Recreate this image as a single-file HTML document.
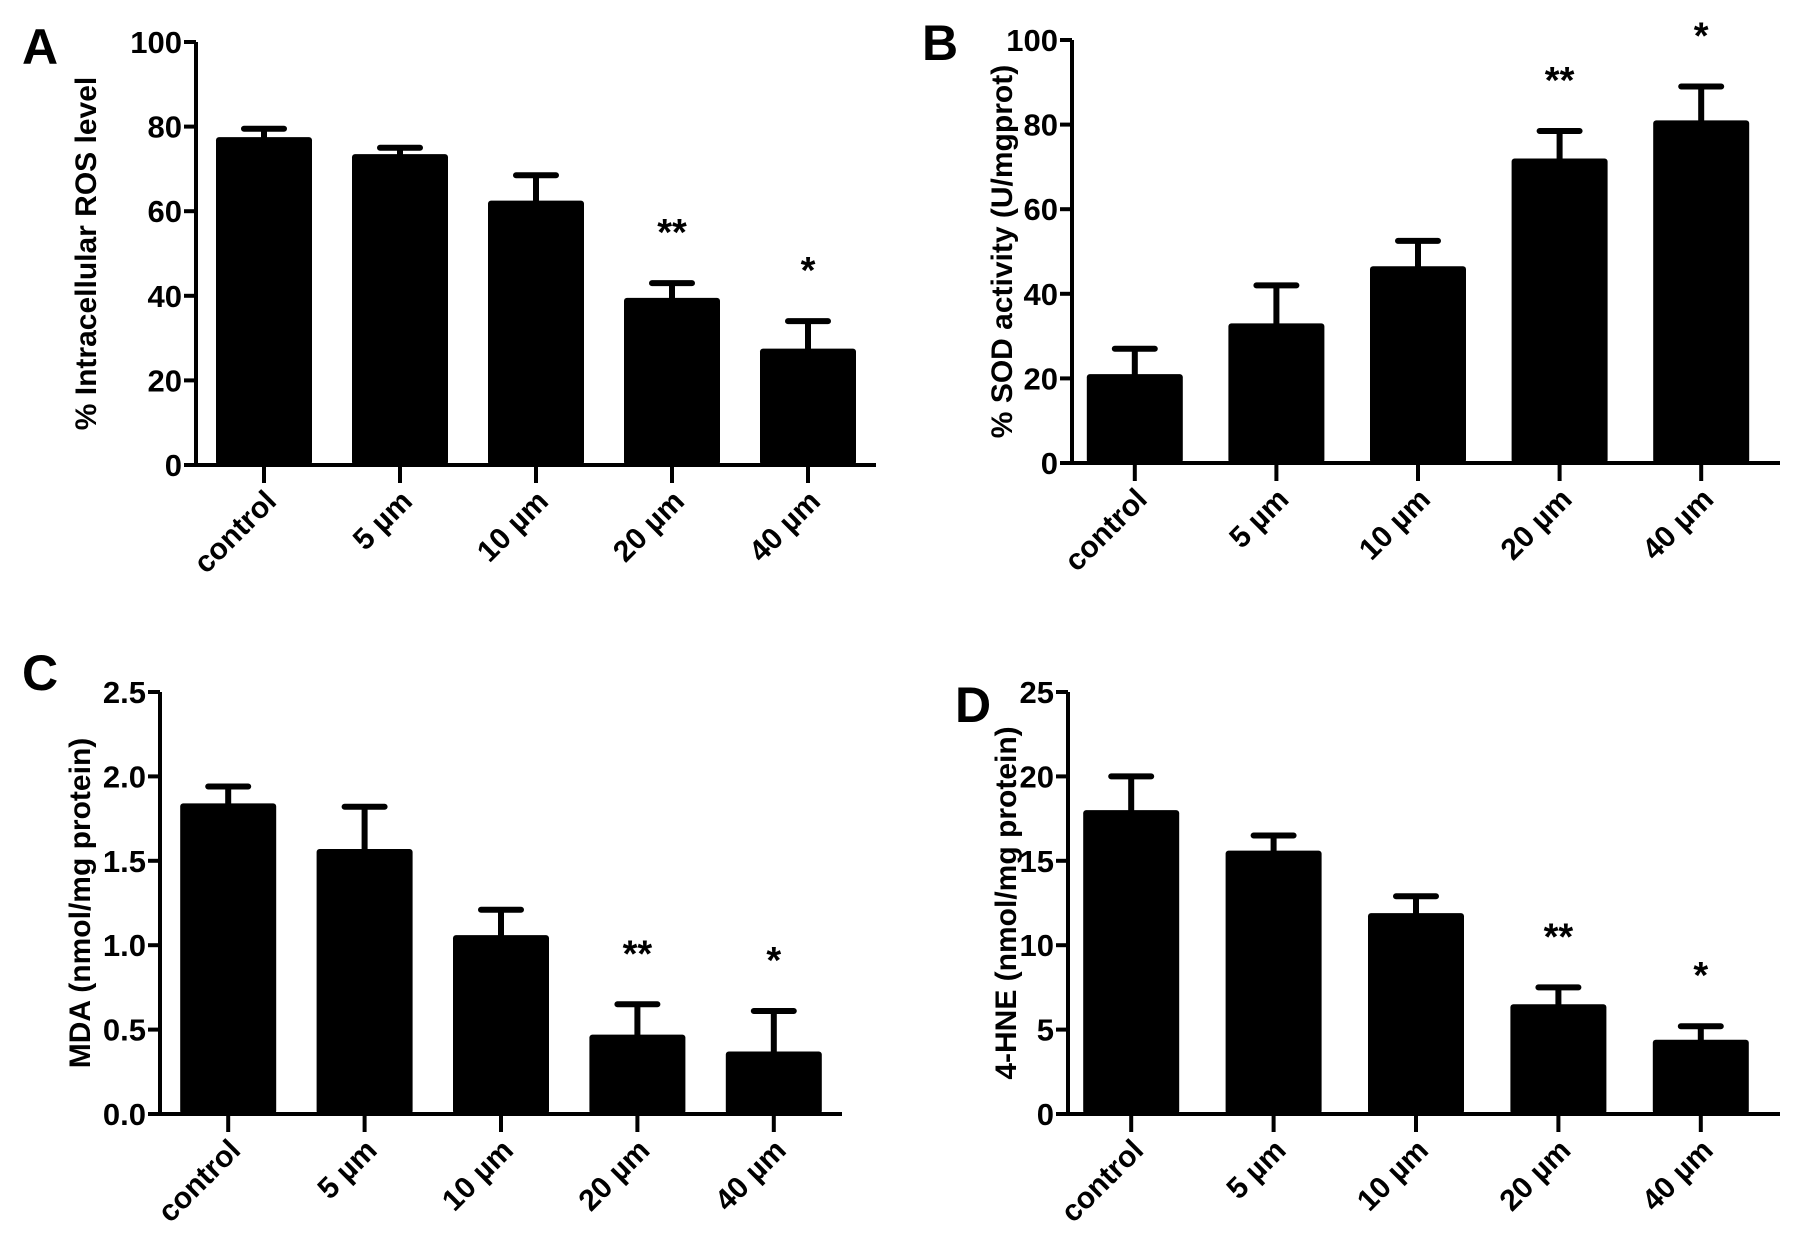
<!DOCTYPE html>
<html><head><meta charset="utf-8"><style>
html,body{margin:0;padding:0;background:#fff;}
svg{display:block;}
text{font-family:"Liberation Sans",Arial,sans-serif;font-weight:bold;fill:#000;}
</style></head><body>
<svg id="fig" width="1795" height="1236" viewBox="0 0 1795 1236"></svg>
<script>
const categories = ["control","5 µm","10 µm","20 µm","40 µm"];
const rosValues = [77.5, 73.5, 62.5, 39.5, 27.5];
const rosErrors = [2, 1.5, 6, 3.5, 6.5];
const rosStars = ["", "", "", "**", "*"];
const rosTicks = ["0","20","40","60","80","100"];
const sodValues = [21, 33, 46.5, 72, 81];
const sodErrors = [6, 9, 6, 6.5, 8];
const sodStars = ["", "", "", "**", "*"];
const sodTicks = ["0","20","40","60","80","100"];
const mdaValues = [1.84, 1.57, 1.06, 0.47, 0.37];
const mdaErrors = [0.1, 0.25, 0.15, 0.18, 0.24];
const mdaStars = ["", "", "", "**", "*"];
const mdaTicks = ["0.0","0.5","1.0","1.5","2.0","2.5"];
const hneValues = [18, 15.6, 11.9, 6.5, 4.4];
const hneErrors = [2, 0.9, 1, 1, 0.8];
const hneStars = ["", "", "", "**", "*"];
const hneTicks = ["0","5","10","15","20","25"];

const NS = "http://www.w3.org/2000/svg";
const svg = document.getElementById("fig");
function mk(tag, attrs, parent){
  const e = document.createElementNS(NS, tag);
  for (const k in attrs) e.setAttribute(k, attrs[k]);
  (parent||svg).appendChild(e);
  return e;
}

function panel(cfg, vals, errs, stars, ticks){
  const g = mk("g", {});
  
  
  const ymax = parseFloat(ticks[ticks.length-1]);
  const y = v => cfg.y0 - (v / ymax) * (cfg.y0 - cfg.yTop);
  const step = (cfg.xEnd - cfg.x0) / categories.length;
  const xc = i => cfg.x0 + step * (i + 0.5) + cfg.shift;
  const bw = 96;
  vals.forEach((v, i) => {
    const top = y(v + errs[i]);
    const eb = mk("path", {d:`M${xc(i)} ${y(v)} V${top} M${xc(i)-20} ${top} H${xc(i)+20}`, stroke:"#000", "stroke-width":6, "stroke-linecap":"round", fill:"none"}, g);
    
    
    const r = mk("rect", {x:xc(i)-bw/2, y:y(v), width:bw, height:cfg.y0 - y(v), fill:"#000", rx:3}, g);
    
    
    if (stars[i]) {
      const s = mk("text", {x:xc(i), y:top - 38, "text-anchor":"middle", "font-size":38}, g);
      s.textContent = stars[i];
      
      
    }
    const t = mk("line", {x1:xc(i), x2:xc(i), y1:cfg.y0, y2:cfg.y0+18, stroke:"#000", "stroke-width":4}, g);
    
    
    const lx = xc(i) + 14, ly = cfg.y0 + 38;
    const lb = mk("text", {x:lx, y:ly, "text-anchor":"end", "font-size":30, transform:`rotate(-45 ${lx} ${ly})`}, g);
    lb.textContent = categories[i];
    
    
  });
  const ax = mk("path", {d:`M${cfg.x0} ${cfg.yTop} V${cfg.y0} H${cfg.xEnd}`, stroke:"#000", "stroke-width":4, fill:"none"}, g);
  
  
  ticks.forEach(tl => {
    const ty = y(parseFloat(tl));
    const tk = mk("line", {x1:cfg.x0-12, x2:cfg.x0, y1:ty, y2:ty, stroke:"#000", "stroke-width":4}, g);
    
    
    const tt = mk("text", {x:cfg.x0-14, y:ty+11, "text-anchor":"end", "font-size":31}, g);
    tt.textContent = tl;
    
    
  });
  const tx = cfg.titleX, ty = (cfg.y0 + cfg.yTop)/2;
  const ttl = mk("text", {x:tx, y:ty, "text-anchor":"middle", "font-size":30, transform:`rotate(-90 ${tx} ${ty})`}, g);
  ttl.textContent = cfg.title;
  
  
  const L = mk("text", {x:cfg.letterX, y:cfg.letterY, "font-size":50}, g);
  L.textContent = cfg.letter;
  
  
}

panel({name:"panel-a-ros", x0:196, xEnd:876, yTop:42, y0:465, shift:0, title:"% Intracellular  ROS level", titleX:96, letter:"A", letterX:22, letterY:64}, rosValues, rosErrors, rosStars, rosTicks);
panel({name:"panel-b-sod", x0:1072, xEnd:1780, yTop:40, y0:463, shift:-8, title:"% SOD activity (U/mgprot)", titleX:1012, letter:"B", letterX:922, letterY:60}, sodValues, sodErrors, sodStars, sodTicks);
panel({name:"panel-c-mda", x0:160, xEnd:842, yTop:692, y0:1114, shift:0, title:"MDA (nmol/mg protein)", titleX:90, letter:"C", letterX:22, letterY:690}, mdaValues, mdaErrors, mdaStars, mdaTicks);
panel({name:"panel-d-hne", x0:1068, xEnd:1780, yTop:692, y0:1114, shift:-8, title:"4-HNE (nmol/mg protein)", titleX:1016, letter:"D", letterX:955, letterY:722}, hneValues, hneErrors, hneStars, hneTicks);
</script>
</body></html>
